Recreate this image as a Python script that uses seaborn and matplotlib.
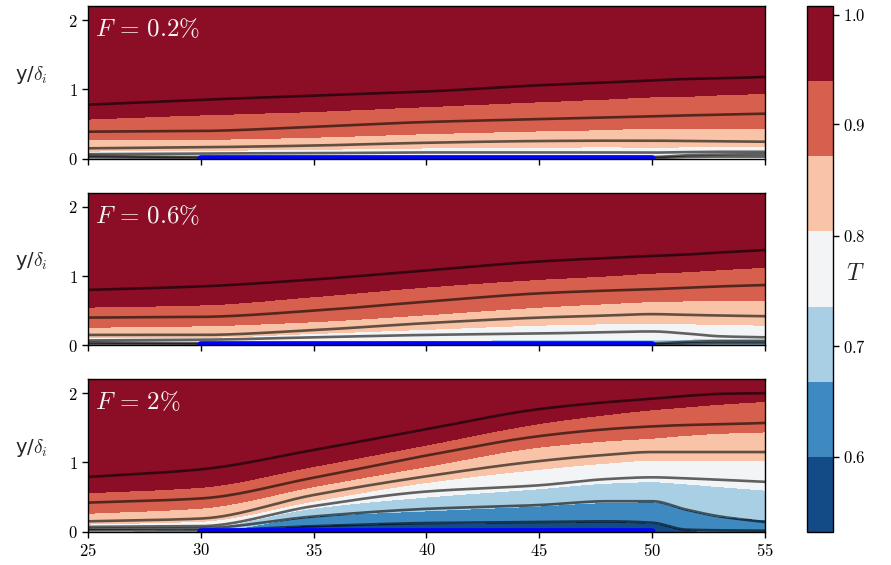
import numpy as np
import pandas as pd
import matplotlib
matplotlib.use("Agg")
import matplotlib.pyplot as plt
from matplotlib.colors import ListedColormap
import seaborn as sns

# ---------------------------------------------------------------------------
# Data
# ---------------------------------------------------------------------------
# streamwise stations where the profiles are given
X_STATIONS = [25, 30, 35, 40, 45, 48, 50, 51.5, 53, 55]

# colour band edges for the temperature field
T_EDGES = [0.532, 0.600, 0.668, 0.736, 0.804, 0.871, 0.939, 1.008]
# isotherms whose heights are tabulated below (rows of the *_ISO tables)
ISO_T = [0.600, 0.668, 0.736, 0.804, 0.871, 0.939]
T_FREESTREAM = 1.0
CBAR_TICKS = [0.6, 0.7, 0.8, 0.9, 1.0]

PANEL_LABELS = [r"$F\,=\,0.2\%$", r"$F\,=\,0.6\%$", r"$F\,=\,2\%$"]

# wall temperature at each station
F02_T_WALL = [0.76, 0.76, 0.76, 0.76, 0.76, 0.76, 0.76, 0.76, 0.76, 0.76]
F06_T_WALL = [0.76, 0.75, 0.72, 0.71, 0.71, 0.71, 0.71, 0.71, 0.71, 0.71]
F2_T_WALL = [0.76, 0.70, 0.56, 0.55, 0.55, 0.55, 0.56, 0.59, 0.62, 0.63]

# height y/delta_i of each isotherm in ISO_T (0 = not present above the wall)
F02_ISO = [
    [0, 0, 0, 0, 0, 0, 0, 0, 0, 0],
    [0, 0, 0, 0, 0, 0, 0, 0, 0, 0],
    [0, 0, 0, 0, 0, 0, 0, 0, 0, 0],
    [0.11, 0.12, 0.135, 0.155, 0.165, 0.17, 0.165, 0.17, 0.175, 0.18],
    [0.28, 0.28, 0.31, 0.36, 0.40, 0.42, 0.44, 0.44, 0.44, 0.44],
    [0.57, 0.63, 0.68, 0.75, 0.82, 0.86, 0.89, 0.90, 0.92, 0.94],
]
F06_ISO = [
    [0, 0, 0, 0, 0, 0, 0, 0, 0, 0],
    [0, 0, 0, 0, 0, 0, 0, 0, 0, 0],
    [0, 0, 0.04, 0.07, 0.08, 0.085, 0.085, 0.09, 0.095, 0.10],
    [0.11, 0.115, 0.17, 0.23, 0.29, 0.31, 0.32, 0.31, 0.30, 0.29],
    [0.26, 0.28, 0.34, 0.44, 0.55, 0.60, 0.63, 0.64, 0.645, 0.65],
    [0.55, 0.58, 0.70, 0.84, 0.95, 1.00, 1.04, 1.06, 1.09, 1.125],
]
F2_ISO = [
    [0, 0, 0.09, 0.12, 0.13, 0.145, 0.12, 0.03, 0, 0],
    [0, 0, 0.22, 0.30, 0.37, 0.42, 0.43, 0.32, 0.22, 0.17],
    [0, 0.05, 0.34, 0.50, 0.62, 0.70, 0.72, 0.69, 0.65, 0.60],
    [0.11, 0.15, 0.44, 0.71, 0.90, 0.99, 1.03, 1.03, 1.03, 1.03],
    [0.265, 0.34, 0.65, 0.94, 1.22, 1.31, 1.35, 1.39, 1.42, 1.44],
    [0.56, 0.64, 0.94, 1.25, 1.56, 1.69, 1.76, 1.80, 1.84, 1.88],
]

# heights of the overlaid contour lines, top line first
F02_LINES = [
    [0.78, 0.85, 0.91, 0.97, 1.06, 1.10, 1.13, 1.15, 1.16, 1.18],
    [0.39, 0.40, 0.46, 0.53, 0.57, 0.595, 0.61, 0.625, 0.635, 0.65],
    [0.15, 0.165, 0.19, 0.23, 0.255, 0.26, 0.26, 0.255, 0.25, 0.245],
    [0.065, 0.075, 0.08, 0.09, 0.09, 0.09, 0.088, 0.095, 0.10, 0.10],
    [0.04, 0.025, 0.025, 0.025, 0.025, 0.025, 0.025, 0.05, 0.06, 0.065],
    [0.02, 0.01, 0.01, 0.01, 0.01, 0.01, 0.01, 0.025, 0.03, 0.03],
]
F06_LINES = [
    [0.80, 0.85, 0.95, 1.08, 1.21, 1.26, 1.29, 1.31, 1.34, 1.375],
    [0.40, 0.41, 0.50, 0.63, 0.75, 0.79, 0.81, 0.83, 0.85, 0.87],
    [0.15, 0.15, 0.22, 0.32, 0.40, 0.43, 0.45, 0.44, 0.43, 0.42],
    [0.07, 0.08, 0.115, 0.15, 0.17, 0.19, 0.20, 0.17, 0.13, 0.115],
    [0.04, 0.03, 0.03, 0.03, 0.03, 0.03, 0.03, 0.05, 0.06, 0.06],
    [0.02, 0.012, 0.012, 0.012, 0.012, 0.012, 0.012, 0.025, 0.03, 0.03],
]
F2_LINES = [
    [0.79, 0.90, 1.18, 1.48, 1.77, 1.87, 1.92, 1.96, 1.99, 2.00],
    [0.42, 0.48, 0.78, 1.10, 1.38, 1.48, 1.52, 1.54, 1.55, 1.57],
    [0.15, 0.19, 0.53, 0.80, 1.02, 1.11, 1.15, 1.15, 1.15, 1.15],
    [0.07, 0.08, 0.37, 0.58, 0.67, 0.76, 0.785, 0.77, 0.75, 0.72],
    [0.04, 0.05, 0.22, 0.33, 0.385, 0.44, 0.44, 0.32, 0.22, 0.14],
    [0.02, 0.02, 0.08, 0.125, 0.14, 0.15, 0.13, 0.03, 0.02, 0.015],
]

# cooled wall segment
WALL_X = [30, 50]
WALL_Y = [0, 0]

X_LIM = (25, 55)
Y_LIM = (0, 2.2)
X_TICKS = [25, 30, 35, 40, 45, 50, 55]
Y_TICKS = [0, 1, 2]

# band colours, cold to hot
BAND_COLORS = ["#134b87", "#3d89c0", "#a8cfe4", "#f3f4f5",
               "#f8c3a6", "#d6604d", "#8b0e26"]

# ---------------------------------------------------------------------------
# Style
# ---------------------------------------------------------------------------
sns.set_style("ticks")
plt.rcParams.update({
    "font.family": ["cmr10", "DejaVu Sans"],
    "mathtext.fontset": "cm",
    "axes.formatter.use_mathtext": True,
    "axes.edgecolor": "black",
    "axes.linewidth": 1.0,
    "xtick.color": "black",
    "ytick.color": "black",
    "xtick.direction": "out",
    "ytick.direction": "out",
    "xtick.major.size": 4,
    "ytick.major.size": 4,
    "xtick.major.width": 1.0,
    "ytick.major.width": 1.0,
    "xtick.labelsize": 12,
    "ytick.labelsize": 12,
})


def pchip(xs, ys, xq):
    """Shape-preserving cubic through the tabulated stations."""
    xs = np.asarray(xs, float)
    ys = np.asarray(ys, float)
    xq = np.asarray(xq, float)
    h = np.diff(xs)
    d = np.diff(ys) / h
    m = np.zeros_like(ys)
    for k in range(1, len(xs) - 1):
        if d[k - 1] * d[k] > 0:
            w1 = 2 * h[k] + h[k - 1]
            w2 = h[k] + 2 * h[k - 1]
            m[k] = (w1 + w2) / (w1 / d[k - 1] + w2 / d[k])
    m[0] = d[0]
    m[-1] = d[-1]
    idx = np.clip(np.searchsorted(xs, xq) - 1, 0, len(h) - 1)
    t = (xq - xs[idx]) / h[idx]
    h00 = 2 * t**3 - 3 * t**2 + 1
    h10 = t**3 - 2 * t**2 + t
    h01 = -2 * t**3 + 3 * t**2
    h11 = t**3 - t**2
    return (h00 * ys[idx] + h10 * h[idx] * m[idx]
            + h01 * ys[idx + 1] + h11 * h[idx] * m[idx + 1])


def temperature_field(xg, yg, t_wall, iso):
    tw = np.interp(xg, X_STATIONS, t_wall)
    hx = np.array([np.clip(pchip(X_STATIONS, row, xg), 0, None) for row in iso])
    field = np.empty((len(yg), len(xg)))
    for j in range(len(xg)):
        ys, ts = [0.0], [tw[j]]
        for k, te in enumerate(ISO_T):
            h = hx[k, j]
            if te > ts[-1] and h > ys[-1] + 1e-6:
                ys.append(h)
                ts.append(te)
        ys.append(Y_LIM[1])
        ts.append(T_FREESTREAM)
        field[:, j] = np.interp(yg, ys, ts)
    return field


def lines_frame(lines, xq):
    frames = []
    for i, row in enumerate(lines):
        frames.append(pd.DataFrame({"x": xq, "y": pchip(X_STATIONS, row, xq),
                                    "line": i}))
    return pd.concat(frames, ignore_index=True)


fig = plt.figure(figsize=(8.91, 5.65), dpi=100)
ax_h = 152.4 / 565
bottoms = [(565 - 158.7) / 565, (565 - 345.3) / 565, (565 - 531.7) / 565]
axes = [fig.add_axes([88 / 891, b, 677 / 891, ax_h]) for b in bottoms]
cax = fig.add_axes([807 / 891, (565 - 532) / 565, 26 / 891, 526 / 565])

xg = np.linspace(X_LIM[0], X_LIM[1], 400)
yg = np.linspace(Y_LIM[0], Y_LIM[1], 400)
cmap = ListedColormap(BAND_COLORS)

panels = [
    (F02_T_WALL, F02_ISO, F02_LINES),
    (F06_T_WALL, F06_ISO, F06_LINES),
    (F2_T_WALL, F2_ISO, F2_LINES),
]

cf = None
for i, (ax, (t_wall, iso, lines)) in enumerate(zip(axes, panels)):
    T = temperature_field(xg, yg, t_wall, iso)
    cf = ax.contourf(xg, yg, T, levels=T_EDGES, cmap=cmap)
    sns.lineplot(data=lines_frame(lines, xg), x="x", y="y", units="line",
                 estimator=None, color="black", alpha=0.6, lw=1.9,
                 sort=False, legend=False, ax=ax)
    ax.plot(WALL_X, WALL_Y, color="#0000ff", lw=5.5, zorder=3)
    ax.set_xlim(*X_LIM)
    ax.set_ylim(*Y_LIM)
    ax.set_xticks(X_TICKS)
    ax.set_yticks(Y_TICKS)
    ax.set_xlabel("")
    if i < 2:
        ax.set_xticklabels([])
    ax.set_ylabel(r"y/$\delta_i$", rotation=0, fontsize=14,
                  family="DejaVu Sans", ha="center", va="center")
    ax.yaxis.set_label_coords(-0.083, 0.55)
    ax.text(0.011, 0.85, PANEL_LABELS[i], transform=ax.transAxes,
            color="#f4f4f4", fontsize=18, ha="left", va="center")
    for sp in ax.spines.values():
        sp.set_visible(True)
        sp.set_zorder(4)

cb = fig.colorbar(cf, cax=cax, ticks=CBAR_TICKS)
cb.outline.set_edgecolor("black")
cb.outline.set_linewidth(1.0)
cax.tick_params(labelsize=12, length=4, width=1.0)
cb.set_label(r"$T$", rotation=0, fontsize=17, ha="center", va="center")
cax.yaxis.set_label_coords(1.85, 0.49)

fig.savefig("out.png", dpi=100)
